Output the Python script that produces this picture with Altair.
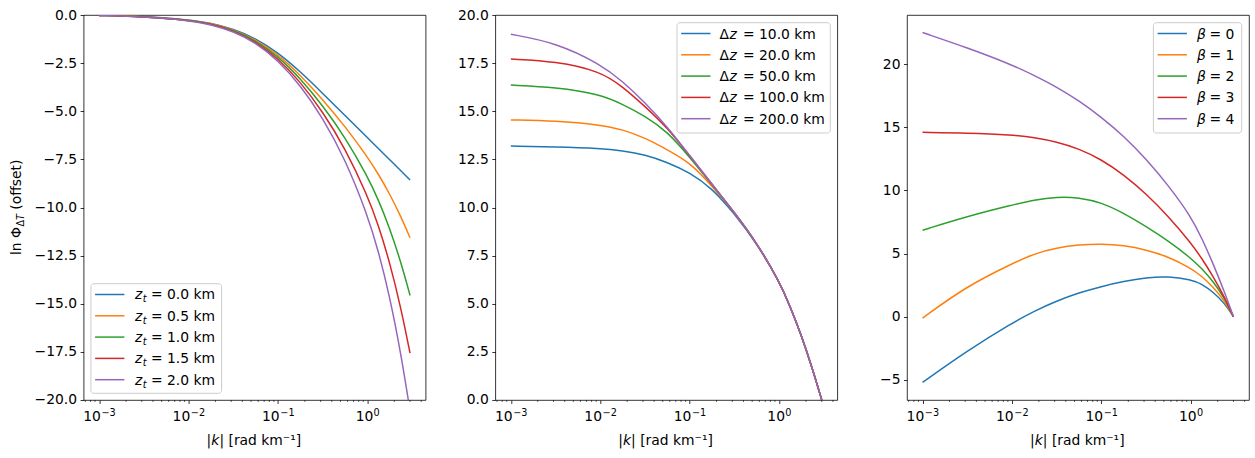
import altair as alt
import pandas as pd

# ---------------------------------------------------------------- data
# wavenumber samples |k| [rad/km]
k = [0.001, 0.00316, 0.01, 0.0178, 0.0316, 0.0562, 0.1, 0.178, 0.316,
     0.562, 1.0, 1.334, 1.778, 2.371, 3.0]

# left panel: top depth z_t
zt_km = ["0.0", "0.5", "1.0", "1.5", "2.0"]
phi_zt_00 = [-0.02, -0.08, -0.24, -0.42, -0.72, -1.21, -1.95, -2.94, -4.07,
             -5.22, -6.37, -6.95, -7.52, -8.10, -8.57]
phi_zt_05 = [-0.02, -0.08, -0.25, -0.44, -0.75, -1.27, -2.05, -3.12, -4.39,
             -5.78, -7.37, -8.28, -9.30, -10.47, -11.57]
phi_zt_10 = [-0.02, -0.09, -0.26, -0.46, -0.78, -1.32, -2.15, -3.30, -4.70,
             -6.34, -8.37, -9.62, -11.08, -12.84, -14.57]
phi_zt_15 = [-0.02, -0.09, -0.27, -0.47, -0.81, -1.38, -2.25, -3.47, -5.02,
             -6.91, -9.37, -10.95, -12.85, -15.21, -17.57]
phi_zt_20 = [-0.02, -0.09, -0.28, -0.49, -0.85, -1.43, -2.35, -3.65, -5.33,
             -7.47, -10.37, -12.29, -14.63, -17.58, -20.57]

# middle panel: layer thickness dz
dz_km = ["10.0", "20.0", "50.0", "100.0", "200.0"]
phi_dz_10 = [13.19, 13.15, 13.07, 12.95, 12.75, 12.35, 11.82, 11.00, 9.68,
             8.14, 6.18, 4.85, 3.35, 1.60, 0.0]
phi_dz_20 = [14.55, 14.50, 14.30, 14.05, 13.62, 13.00, 12.35, 11.12, 9.74,
             8.17, 6.18, 4.85, 3.35, 1.60, 0.0]
phi_dz_50 = [16.36, 16.25, 15.88, 15.36, 14.76, 13.95, 12.62, 11.18, 9.75,
             8.17, 6.18, 4.85, 3.35, 1.60, 0.0]
phi_dz_100 = [17.71, 17.60, 17.08, 16.28, 15.25, 14.15, 12.69, 11.20, 9.75,
              8.17, 6.18, 4.85, 3.35, 1.60, 0.0]
phi_dz_200 = [19.00, 18.57, 17.45, 16.55, 15.45, 14.20, 12.70, 11.20, 9.75,
              8.17, 6.18, 4.85, 3.35, 1.60, 0.0]

# right panel: fractal exponent beta
beta_vals = ["0", "1", "2", "3", "4"]
phi_b0 = [-5.2, -2.7, -0.5, 0.45, 1.25, 1.9, 2.4, 2.8, 3.1, 3.2, 2.95, 2.6,
          1.95, 1.1, 0.0]
phi_b1 = [-0.1, 2.45, 4.2, 5.0, 5.45, 5.7, 5.78, 5.65, 5.3, 4.75, 3.85, 3.2,
          2.35, 1.3, 0.0]
phi_b2 = [6.85, 7.95, 8.85, 9.25, 9.5, 9.45, 9.05, 8.2, 7.15, 6.0, 4.65, 3.8,
          2.8, 1.5, 0.0]
phi_b3 = [14.6, 14.55, 14.4, 14.2, 13.85, 13.3, 12.45, 11.25, 9.75, 7.95,
          5.85, 4.6, 3.2, 1.6, 0.0]
phi_b4 = [22.5, 21.3, 19.95, 19.1, 18.2, 17.1, 15.8, 14.3, 12.5, 10.4, 7.95,
          6.2, 4.2, 2.0, 0.0]

# axis ticks
k_major = [0.001, 0.01, 0.1, 1.0]
k_major_exp = ["\u22123", "\u22122", "\u22121", "0"]
y_ticks_zt = [-20.0, -17.5, -15.0, -12.5, -10.0, -7.5, -5.0, -2.5, 0.0]
y_ticks_dz = [0.0, 2.5, 5.0, 7.5, 10.0, 12.5, 15.0, 17.5, 20.0]
y_ticks_beta = [-5, 0, 5, 10, 15, 20]

# ---------------------------------------------------------------- style
COLORS = ["#1f77b4", "#ff7f0e", "#2ca02c", "#d62728", "#9467bd"]
FONT = "DejaVu Sans"
FS = 13.9
SUB = 9.7
W, H = 342, 385
KMIN, KMAX = 10 ** -3.174, 10 ** 0.651
k_minor = [m * 10.0 ** e for e in range(-4, 1) for m in range(2, 10)]
k_minor = [v for v in k_minor if KMIN <= v <= KMAX]

ONE = pd.DataFrame({"a": [0]})


def long_frame(field, labels, curves):
    rows = []
    for lab, vals in zip(labels, curves):
        for kk, v in zip(k, vals):
            rows.append({"k": kk, "v": v, field: lab})
    return pd.DataFrame(rows)


def text(s, x, y, size=FS, italic=False, angle=0):
    return alt.Chart(ONE).mark_text(
        text=s, fontSize=size, font=FONT, color="black", align="left",
        baseline="alphabetic", angle=angle,
        fontStyle="italic" if italic else "normal",
    ).encode(x=alt.value(x), y=alt.value(y))


def x_title():
    x0 = W / 2 - 48
    yb = H + 45
    return [
        text("|", x0, yb),
        text("k", x0 + 4.7, yb, italic=True),
        text("| [rad km\u207b\u00b9]", x0 + 12.8, yb),
    ]


def tick_labels():
    """Decade labels 10^n written as base plus raised exponent."""
    layers = []
    for sel, base_dx, exp_dx in ((slice(0, 3), 1.7, 2.3), (slice(3, 4), 5.9, 6.2)):
        d = pd.DataFrame({"k": k_major[sel], "e": k_major_exp[sel]})
        layers.append(
            alt.Chart(d).mark_text(align="right", baseline="alphabetic",
                                   font=FONT, fontSize=FS, color="black",
                                   dx=base_dx, text="10")
            .encode(x="k:Q", y=alt.value(H + 21.5))
        )
        layers.append(
            alt.Chart(d).mark_text(align="left", baseline="alphabetic",
                                   font=FONT, fontSize=SUB, color="black",
                                   dx=exp_dx)
            .encode(x="k:Q", y=alt.value(H + 16.5), text="e:N")
        )
    return layers


def panel(df, field, labels, ydomain, yticks, yfmt, box, pieces):
    bx, by, bw, bh = box
    cscale = alt.Scale(domain=labels, range=COLORS)
    x_enc = alt.X(
        "k:Q",
        scale=alt.Scale(type="log", domain=[KMIN, KMAX], nice=False),
        axis=alt.Axis(values=k_major, labels=False, title=None,
                      grid=False, domain=False, tickSize=3.5, tickWidth=0.8),
    )
    y_enc = alt.Y(
        "v:Q",
        scale=alt.Scale(domain=ydomain, nice=False, zero=False),
        axis=alt.Axis(values=yticks, format=yfmt, title=None, grid=False,
                      domain=False, tickSize=3.5, tickWidth=0.8,
                      labelPadding=3.5, labelOverlap=False),
    )
    lines = alt.Chart(df).mark_line(
        strokeWidth=1.5, clip=True, interpolate="basis"
    ).encode(x=x_enc, y=y_enc,
             color=alt.Color(f"{field}:N", scale=cscale, legend=None))

    minor = alt.Chart(pd.DataFrame({"k": k_minor})).mark_rule(
        color="black", strokeWidth=0.6
    ).encode(x="k:Q", y=alt.value(H), y2=alt.value(H + 2))

    # legend box, handles and labels
    frame = alt.Chart(ONE).mark_rect(
        fill="white", fillOpacity=0.8, stroke="#cccccc", strokeWidth=1,
        cornerRadius=3,
    ).encode(x=alt.value(bx), x2=alt.value(bx + bw),
             y=alt.value(by), y2=alt.value(by + bh))

    leg = pd.DataFrame({field: labels})
    leg["row"] = range(len(labels))
    leg["yc"] = by + 10.8 + leg["row"] * 21.3
    for col, (_, _, _, _, fmt) in enumerate(pieces):
        leg[f"p{col}"] = [fmt(v) for v in labels]

    handles = alt.Chart(leg).mark_rule(strokeWidth=1.5).encode(
        x=alt.value(bx + 4.2), x2=alt.value(bx + 33.5),
        y=alt.Y("yc:Q", scale=None),
        color=alt.Color(f"{field}:N", scale=cscale, legend=None),
    )
    layers = [lines, minor] + tick_labels() + [frame, handles]
    for col, (dx, size, italic, dy, _) in enumerate(pieces):
        layers.append(
            alt.Chart(leg).transform_calculate(yb=f"datum.yc + {5 + dy}")
            .mark_text(align="left", baseline="alphabetic", font=FONT,
                       fontSize=size, color="black",
                       fontStyle="italic" if italic else "normal")
            .encode(x=alt.value(bx + dx), y=alt.Y("yb:Q", scale=None),
                    text=f"p{col}:N")
        )
    layers += x_title()
    return layers


df_zt = long_frame("zt", zt_km,
                   [phi_zt_00, phi_zt_05, phi_zt_10, phi_zt_15, phi_zt_20])
df_dz = long_frame("dz", dz_km,
                   [phi_dz_10, phi_dz_20, phi_dz_50, phi_dz_100, phi_dz_200])
df_beta = long_frame("beta", beta_vals,
                     [phi_b0, phi_b1, phi_b2, phi_b3, phi_b4])

left_layers = panel(
    df_zt, "zt", zt_km, [-20, 0], y_ticks_zt, ".1f",
    (7.3, 268.7, 130.7, 109.6),
    [(44.0, FS, True, 0, lambda v: "z"),
     (51.8, SUB, True, 3, lambda v: "t"),
     (60.0, FS, False, 0, lambda v: f"= {v} km")],
)
# rotated y title: ln Φ_ΔT (offset)
yx = -62.3
left_layers += [
    text("ln \u03a6", yx, 240, angle=270),
    text("\u0394", yx + 3, 211.6, size=SUB, angle=270),
    text("T", yx + 3, 205.0, size=SUB, italic=True, angle=270),
    text("(offset)", yx, 194.7, angle=270),
]
left = alt.layer(*left_layers).properties(width=W, height=H)

mid = alt.layer(*panel(
    df_dz, "dz", dz_km, [0, 20], y_ticks_dz, ".1f",
    (181.7, 7.7, 153.3, 110.3),
    [(42.6, FS, False, 0, lambda v: "\u0394"),
     (52.4, FS, True, 0, lambda v: "z"),
     (66.0, FS, False, 0, lambda v: f"= {v} km")],
)).properties(width=W, height=H)

right = alt.layer(*panel(
    df_beta, "beta", beta_vals, [-6.59, 23.89], y_ticks_beta, "d",
    (246.4, 7.7, 88.3, 110.3),
    [(43.6, FS, True, 0, lambda v: "\u03b2"),
     (56.0, FS, False, 0, lambda v: f"= {v}")],
)).properties(width=W, height=H)

chart = (
    alt.hconcat(alt.hconcat(left, mid, spacing=29.7), right, spacing=40.4)
    .properties(padding={"left": 9.6, "top": 7, "right": 5, "bottom": 5},
                background="white")
    .configure_view(stroke="black", strokeWidth=0.8)
    .configure_axis(labelFont=FONT, labelFontSize=FS, labelColor="black",
                    tickColor="black")
)

chart.save("out.html", embed_options={"renderer": "svg", "actions": False})
